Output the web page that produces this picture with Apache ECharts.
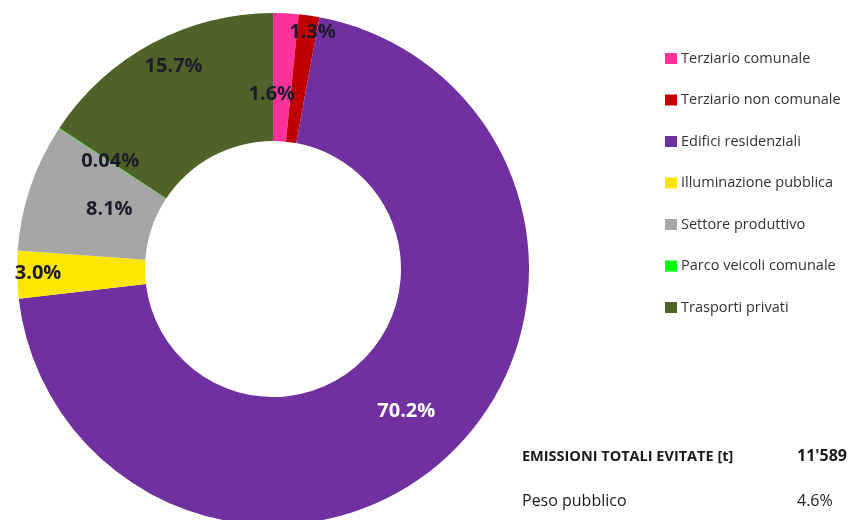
<!DOCTYPE html>
<html>
<head>
<meta charset="utf-8">
<script src="https://cdn.jsdelivr.net/npm/echarts@6/dist/echarts.min.js"></script>
<style>
  html, body { margin: 0; padding: 0; background: #fff; }
  #main { width: 850px; height: 520px; }
</style>
</head>
<body>
<div id="main"></div>
<script>
const categories = [
  "Terziario comunale",
  "Terziario non comunale",
  "Edifici residenziali",
  "Illuminazione pubblica",
  "Settore produttivo",
  "Parco veicoli comunale",
  "Trasporti privati"
];
const shares = [1.6, 1.3, 70.2, 3.0, 8.1, 0.04, 15.7];
const shareLabels = ["1.6%", "1.3%", "70.2%", "3.0%", "8.1%", "0.04%", "15.7%"];
const totalLabel = "EMISSIONI TOTALI EVITATE [t]";
const totalValue = "11'589";
const publicLabel = "Peso pubblico";
const publicValue = "4.6%";

// style only
const colors = ["#FF3399", "#C00000", "#7030A0", "#FFE600", "#A6A6A6", "#00FF00", "#4F6228"];
const labelColors = ["#1b1b2b", "#1b1b2b", "#ffffff", "#1b1b2b", "#1b1b2b", "#1b1b2b", "#1b1b2b"];
const labelShift = [[-11, 20], [12, -44], [0, 0], [-40, 0], [21, 3], [0, 0], [-7, -31]];

const font = "'Open Sans', 'Noto Sans', sans-serif";

const chart = echarts.init(document.getElementById("main"), null, { renderer: "canvas" });

const option = {
  animation: false,
  backgroundColor: "#ffffff",
  legend: {
    orient: "vertical",
    left: 660,
    top: 46,
    icon: "rect",
    itemWidth: 12,
    itemHeight: 11,
    itemGap: 26.5,
    data: categories,
    textStyle: {
      fontFamily: font,
      fontSize: 14.5,
      color: "#333333",
      lineHeight: 15,
      padding: [0, 0, 0, -1]
    }
  },
  series: [
    {
      type: "pie",
      center: [273, 269],
      radius: [128, 256],
      startAngle: 90,
      clockwise: true,
      avoidLabelOverlap: false,
      silent: true,
      itemStyle: { borderWidth: 0 },
      label: {
        show: true,
        position: "inside",
        fontFamily: font,
        fontSize: 20,
        fontWeight: "bold"
      },
      labelLine: { show: false },
      data: categories.map((name, i) => ({
        name: name,
        value: shares[i],
        itemStyle: { color: colors[i] },
        label: {
          formatter: shareLabels[i],
          color: labelColors[i],
          offset: labelShift[i]
        }
      }))
    }
  ],
  graphic: [
    {
      type: "text",
      left: 522,
      top: 449,
      style: { text: totalLabel, font: "bold 14.5px " + font, fill: "#1a1a1a" }
    },
    {
      type: "text",
      left: 797,
      top: 448,
      style: { text: totalValue, font: "bold 16px " + font, fill: "#1a1a1a" }
    },
    {
      type: "text",
      left: 522,
      top: 493,
      style: { text: publicLabel, font: "16px " + font, fill: "#1a1a1a" }
    },
    {
      type: "text",
      left: 797,
      top: 493,
      style: { text: publicValue, font: "16px " + font, fill: "#1a1a1a" }
    }
  ]
};

chart.setOption(option);
</script>
</body>
</html>
